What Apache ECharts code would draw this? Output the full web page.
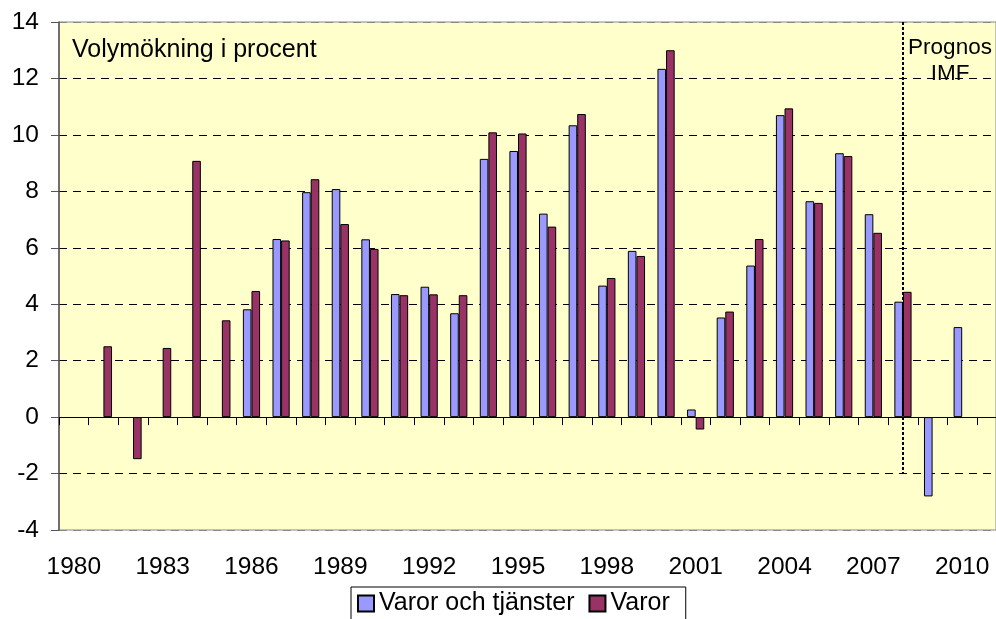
<!DOCTYPE html>
<html><head><meta charset="utf-8">
<script src="https://cdn.jsdelivr.net/npm/echarts@6/dist/echarts.min.js"></script>
<style>html,body{margin:0;padding:0;background:#fff}#c{width:996px;height:619px}</style>
</head><body><div id="c"></div>
<script>
var years = ['1980','1981','1982','1983','1984','1985','1986','1987','1988','1989','1990','1991','1992','1993','1994','1995','1996','1997','1998','1999','2000','2001','2002','2003','2004','2005','2006','2007','2008','2009','2010'];
var varorTjanster = [null,null,null,null,null,null,3.82,6.31,7.97,8.08,6.30,4.36,4.62,3.68,9.15,9.43,7.21,10.34,4.66,5.89,12.34,0.27,3.53,5.37,10.70,7.65,9.35,7.19,4.09,-2.81,3.19];
var varor = [null,2.51,-1.49,2.45,9.08,3.43,4.47,6.26,8.43,6.84,5.96,4.32,4.35,4.32,10.09,10.05,6.75,10.74,4.93,5.71,13.0,-0.44,3.74,6.31,10.94,7.59,9.25,6.53,4.44,null,null];
var seriesNames = ['Varor och tjänster','Varor'];
var yTicks = {min:-4, max:14, interval:2};

var chart = echarts.init(document.getElementById('c'));
var font = 'Liberation Sans, Arial, sans-serif';
chart.setOption({
  animation:false,
  textStyle:{fontFamily:font},
  grid:[
    {left:59, right:0, top:22, height:508, show:true, backgroundColor:'#FFFFCC', borderColor:'#888', borderWidth:1},
    {left:59, width:918, top:22, height:508, show:false}
  ],
  xAxis:[
    {gridIndex:0, type:'value', min:0, max:1, axisLine:{onZero:true, lineStyle:{color:'#000', width:1}},
     axisTick:{show:false}, axisLabel:{show:false}, splitLine:{show:false}},
    {gridIndex:1, type:'category', data:years, position:'bottom', axisLine:{onZero:false, show:false}, axisTick:{show:false},
     axisLabel:{interval:2, margin:25, fontSize:24.5, color:'#000', fontFamily:font}},
    {gridIndex:1, type:'category', data:years, position:'bottom', axisLine:{onZero:true, show:false},
     axisTick:{show:true, interval:0, length:8, lineStyle:{color:'#000'}}, axisLabel:{show:false}}
  ],
  yAxis:[
    {gridIndex:0, type:'value', min:yTicks.min, max:yTicks.max, interval:yTicks.interval,
     axisLine:{show:true, lineStyle:{color:'#555', width:1.5}},
     axisTick:{show:true, length:8, lineStyle:{color:'#555'}},
     axisLabel:{fontSize:24.5, color:'#000', margin:20, fontFamily:font},
     splitLine:{show:true, lineStyle:{type:[8,6], color:['#888','#000','#000','#000','#000','#000','#000','#000','#000','#888'], width:1}}},
    {gridIndex:1, type:'value', min:yTicks.min, max:yTicks.max, interval:yTicks.interval,
     axisLine:{show:false}, axisTick:{show:false}, axisLabel:{show:false}, splitLine:{show:false}}
  ],
  legend:{left:351, top:587, data:seriesNames, itemWidth:16, itemHeight:16, itemGap:14, icon:'rect',
    borderColor:'#000', borderWidth:1, padding:[4,16,8,6], backgroundColor:'#fff',
    textStyle:{fontSize:25, color:'#000', fontFamily:font}},
  series:[
    {name:seriesNames[0], type:'bar', xAxisIndex:1, yAxisIndex:1, data:varorTjanster, barWidth:8.6, barGap:'0%',
     itemStyle:{color:'#9999FF', borderColor:'#000', borderWidth:1}},
    {name:seriesNames[1], type:'bar', xAxisIndex:1, yAxisIndex:1, data:varor, barWidth:8.6, barGap:'0%',
     itemStyle:{color:'#993366', borderColor:'#000', borderWidth:1}},
    {name:'prognos', type:'line', data:[], xAxisIndex:2, yAxisIndex:1, silent:true,
     markLine:{silent:true, symbol:'none', label:{show:false}, animation:false,
       lineStyle:{type:[3,2], color:'#000', width:2},
       data:[[{xAxis:'2008', yAxis:14},{xAxis:'2008', yAxis:-2}]]}}
  ],
  graphic:[
    {type:'text', x:72, y:38, style:{text:'Volymökning i procent', font:'25px '+font, fill:'#000'}},
    {type:'text', x:950, y:35, style:{text:'Prognos\nIMF', font:'22.5px '+font, fill:'#000', align:'center', lineHeight:26}}
  ]
});
</script></body></html>
